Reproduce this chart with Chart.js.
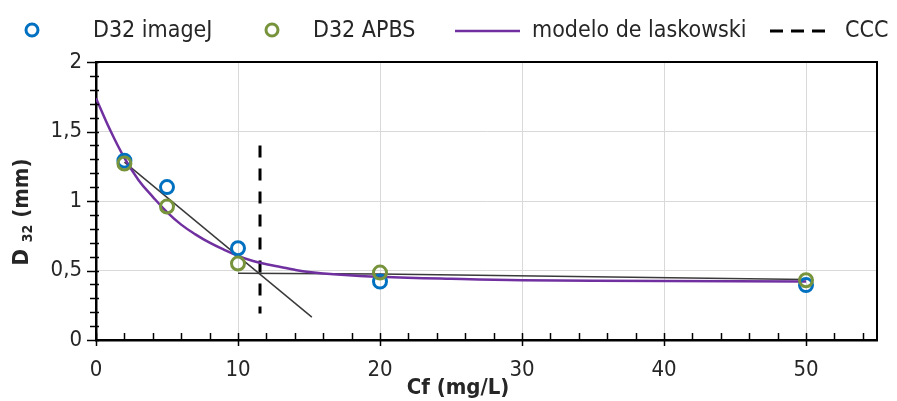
<!DOCTYPE html>
<html>
<head>
<meta charset="utf-8">
<script src="https://cdn.jsdelivr.net/npm/chart.js@4"></script>
<style>
  body { margin: 0; background: #fff; }
  #wrap { width: 897px; height: 401px; }
</style>
</head>
<body>
<div id="wrap"><canvas id="grafica" width="897" height="401"></canvas></div>
<script>
// datos
const cfImageJ = [2, 5, 10, 20, 50];
const d32ImageJ = [1.29, 1.10, 0.66, 0.42, 0.395];
const cfApbs = [2, 5, 10, 20, 50];
const d32Apbs = [1.27, 0.96, 0.55, 0.485, 0.43];
const cfModelo = [0, 1, 2, 3, 4, 5, 6, 7, 8, 9, 10, 11, 12, 13, 14, 15, 17, 20, 25, 30, 40, 50];
const d32Modelo = [1.74, 1.51, 1.31, 1.15, 1.03, 0.92, 0.83, 0.76, 0.70, 0.65, 0.605, 0.57, 0.545, 0.525, 0.505, 0.49, 0.472, 0.455, 0.44, 0.43, 0.425, 0.42];
const cfTangente = [2, 15.2];
const d32Tangente = [1.28, 0.165];
const cfMeseta = [10, 20, 50];
const d32Meseta = [0.48, 0.475, 0.435];
const cfCCC = [11.55, 11.55];
const d32CCC = [1.40, 0.19];
const xTicks = [0, 10, 20, 30, 40, 50];
const yTicks = [0, 0.5, 1, 1.5, 2];
const yTickLabels = ['0', '0,5', '1', '1,5', '2'];

const AZUL = '#0070C0';
const VERDE = '#77933C';
const MORADO = '#7030A0';
const FUENTE = '"DejaVu Sans Condensed", "Liberation Sans", sans-serif';

const pares = (xs, ys) => xs.map((x, i) => ({ x: x, y: ys[i] }));

// ejes, marco, ticks menores, titulos y leyenda
const extras = {
    id: 'extras',
    afterDraw(chart) {
        const ctx = chart.ctx;
        const a = chart.chartArea;
        const sx = chart.scales.x;
        const sy = chart.scales.y;
        ctx.save();
        ctx.strokeStyle = '#000';
        ctx.lineWidth = 2;
        ctx.beginPath();
        ctx.moveTo(a.left, a.top);
        ctx.lineTo(a.right, a.top);
        ctx.lineTo(a.right, a.bottom);
        ctx.stroke();

        ctx.lineWidth = 1.5;
        for (let v = 0; v <= 54; v += 2) {
            const px = Math.round(sx.getPixelForValue(v)) + 0.5;
            ctx.beginPath();
            ctx.moveTo(px, a.bottom - 7);
            ctx.lineTo(px, a.bottom + (v % 10 === 0 ? 6 : 0));
            ctx.stroke();
        }
        for (let i = 0; i <= 20; i++) {
            const py = Math.round(sy.getPixelForValue(i / 10)) + 0.5;
            ctx.beginPath();
            ctx.moveTo(a.left - (i % 5 === 0 ? 9 : 6), py);
            ctx.lineTo(a.left + 3, py);
            ctx.stroke();
        }

        // titulo eje x
        ctx.fillStyle = '#262626';
        ctx.font = 'bold 22px ' + FUENTE;
        ctx.textAlign = 'center';
        ctx.textBaseline = 'alphabetic';
        ctx.fillText('Cf (mg/L)', 458, 394);

        // titulo eje y con subindice
        ctx.translate(28, 212);
        ctx.rotate(-Math.PI / 2);
        const partes = [
            { t: 'D ', f: 'bold 22px ' + FUENTE, dy: 0 },
            { t: '32', f: 'bold 14px ' + FUENTE, dy: 4 },
            { t: ' (mm)', f: 'bold 22px ' + FUENTE, dy: 0 }
        ];
        let total = 0;
        partes.forEach(p => { ctx.font = p.f; p.w = ctx.measureText(p.t).width; total += p.w; });
        let cx = -total / 2;
        ctx.textAlign = 'left';
        partes.forEach(p => {
            ctx.font = p.f;
            ctx.fillText(p.t, cx, p.dy);
            cx += p.w;
        });
        ctx.restore();

        // leyenda
        ctx.save();
        ctx.font = '23px ' + FUENTE;
        ctx.fillStyle = '#262626';
        ctx.textBaseline = 'middle';
        ctx.lineWidth = 3;
        ctx.strokeStyle = AZUL;
        ctx.beginPath(); ctx.arc(32, 30, 6, 0, Math.PI * 2); ctx.stroke();
        ctx.fillText('D32 imageJ', 93, 31);
        ctx.strokeStyle = VERDE;
        ctx.beginPath(); ctx.arc(272, 30, 6, 0, Math.PI * 2); ctx.stroke();
        ctx.fillText('D32 APBS', 313, 31);
        ctx.strokeStyle = MORADO;
        ctx.lineWidth = 2.5;
        ctx.beginPath(); ctx.moveTo(455, 31); ctx.lineTo(520, 31); ctx.stroke();
        ctx.fillText('modelo de laskowski', 532, 31);
        ctx.strokeStyle = '#000';
        ctx.lineWidth = 3;
        ctx.setLineDash([13, 8]);
        ctx.beginPath(); ctx.moveTo(770, 31); ctx.lineTo(832, 31); ctx.stroke();
        ctx.setLineDash([]);
        ctx.fillText('CCC', 845, 31);
        ctx.restore();
    }
};

new Chart(document.getElementById('grafica').getContext('2d'), {
    type: 'scatter',
    data: {
        datasets: [
            {
                label: 'D32 APBS',
                data: pares(cfApbs, d32Apbs),
                borderColor: VERDE,
                backgroundColor: 'rgba(0,0,0,0)',
                borderWidth: 3,
                pointRadius: 6.5,
                showLine: false
            },
            {
                label: 'D32 imageJ',
                data: pares(cfImageJ, d32ImageJ),
                borderColor: AZUL,
                backgroundColor: 'rgba(0,0,0,0)',
                borderWidth: 3,
                pointRadius: 6.5,
                showLine: false
            },
            {
                label: 'modelo de laskowski',
                data: pares(cfModelo, d32Modelo),
                borderColor: MORADO,
                borderWidth: 2.5,
                pointRadius: 0,
                showLine: true,
                tension: 0.4
            },
            {
                label: 'CCC',
                data: pares(cfCCC, d32CCC),
                borderColor: '#000',
                borderWidth: 3,
                borderDash: [12, 11],
                pointRadius: 0,
                showLine: true
            },
            {
                label: 'tangente',
                data: pares(cfTangente, d32Tangente),
                borderColor: '#3a3a3a',
                borderWidth: 1.5,
                pointRadius: 0,
                showLine: true
            },
            {
                label: 'meseta',
                data: pares(cfMeseta, d32Meseta),
                borderColor: '#3a3a3a',
                borderWidth: 1.5,
                pointRadius: 0,
                showLine: true
            }
        ]
    },
    options: {
        responsive: false,
        animation: false,
        layout: { padding: { left: 0, top: 62, right: 20, bottom: 0 } },
        plugins: {
            legend: { display: false },
            tooltip: { enabled: false }
        },
        scales: {
            x: {
                type: 'linear',
                min: 0,
                max: 55,
                afterBuildTicks: scale => { scale.ticks = xTicks.map(v => ({ value: v })); },
                afterFit: scale => { scale.height = 61; },
                ticks: {
                    font: { family: FUENTE, size: 22 },
                    color: '#262626',
                    padding: 17,
                    maxRotation: 0
                },
                grid: { color: '#d9d9d9', lineWidth: 1, drawTicks: false },
                border: { color: '#000', width: 2.5 }
            },
            y: {
                min: 0,
                max: 2,
                afterBuildTicks: scale => { scale.ticks = yTicks.map(v => ({ value: v })); },
                afterFit: scale => { scale.width = 96; },
                ticks: {
                    font: { family: FUENTE, size: 22 },
                    color: '#262626',
                    padding: 14,
                    callback: (v) => yTickLabels[yTicks.indexOf(v)]
                },
                grid: { color: '#d9d9d9', lineWidth: 1, drawTicks: false },
                border: { color: '#000', width: 2.5 }
            }
        }
    },
    plugins: [extras]
});
</script>
</body>
</html>
